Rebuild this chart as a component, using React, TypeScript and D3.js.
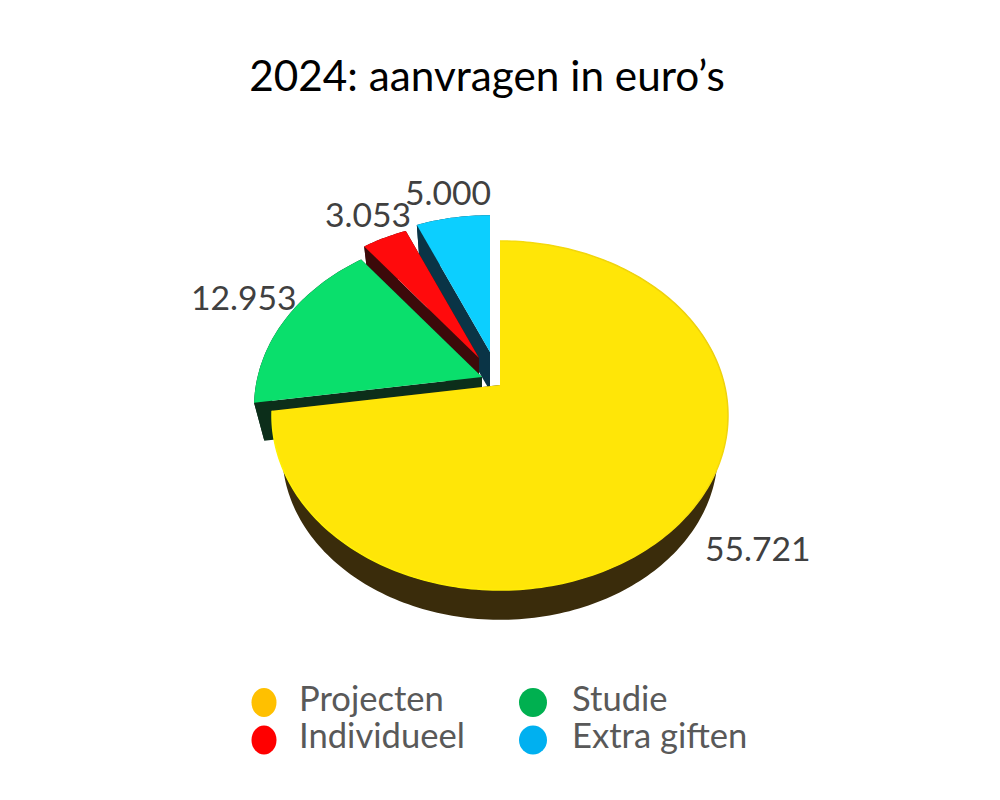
import React from "react";
import * as d3 from "d3";

const categories = ["Projecten", "Studie", "Individueel", "Extra giften"];
const values = [55721, 12953, 3053, 5000];
const valueLabels = ["55.721", "12.953", "3.053", "5.000"];
const topColors = ["#FFE607", "#0ADF6C", "#FF0A0C", "#0CCFFF"];
const wallColors = ["#3A2C0B", "#0C2E1A", "#3C0A0A", "#0A3446"];
const legendColors = ["#FFC000", "#00B050", "#FF0000", "#00B0F0"];

// Layout of each slice: exploded apex and perspective scale
const apexX = [500, 482, 479, 490];
const apexY = [385, 377, 358, 352];
const sliceScale = [1, 1, 0.95, 0.95];
const labelX = [705, 191, 325, 405];
const labelY = [561, 310, 227, 205];
const legendCx = [264, 533, 264, 533];
const legendCy = [702.5, 702.5, 740, 740];
const legendRx = [12.5, 14, 12.5, 14];
const legendTextX = [299, 572, 299, 572];
const legendTextY = [711, 711, 748, 748];

const FONT = "Lato, Carlito, Calibri, sans-serif";
const R = 224.5, S = 169.2, K = 0.1748;
const WALL_SCALE = 0.955, WALL_DY = 39;

const arcs = d3.pie<number>().sort(null).value((d) => d)(values);

type Pt = [number, number];
const project = (i: number, a: number): Pt => {
  const u = Math.sin(a), v = -Math.cos(a), w = 1 - K * v, s = sliceScale[i];
  return [apexX[i] + (s * R * u) / w, apexY[i] + (s * S * v) / w];
};
const lower = (i: number, p: Pt): Pt => [
  apexX[i] + (p[0] - apexX[i]) * WALL_SCALE,
  apexY[i] + (p[1] - apexY[i]) * WALL_SCALE + WALL_DY,
];
const rim = (i: number): Pt[] => {
  const { startAngle, endAngle } = arcs[i];
  const n = Math.max(4, Math.ceil((endAngle - startAngle) / 0.02));
  const ang = d3.scaleLinear().domain([0, n]).range([startAngle, endAngle]);
  return d3.range(n + 1).map((k) => project(i, ang(k)));
};
const line = d3.line<Pt>();

function Slice({ i }: { i: number }) {
  const edge = rim(i);
  const apex: Pt = [apexX[i], apexY[i]];
  const first = edge[0], last = edge[edge.length - 1];
  const pts = [apex, ...edge];
  const ribbon = [...edge, ...edge.map((p) => lower(i, p)).reverse()];
  const sideA = [apex, first, lower(i, first), lower(i, apex)];
  const sideB = [apex, last, lower(i, last), lower(i, apex)];
  return (
    <g>
      {[ribbon, sideA, sideB].map((poly, k) => (
        <path key={k} d={line(poly) + "Z"} fill={wallColors[i]} />
      ))}
      <path d={line(pts) + "Z"} fill={topColors[i]} />
      {i === 0 ? (
        <path d={line(edge)!} fill="none" stroke="url(#yEdge)" strokeWidth={1.5} />
      ) : null}
    </g>
  );
}

export default function App() {
  return (
    <svg
      width={1000}
      height={800}
      viewBox="0 0 1000 800"
      style={{ position: "absolute", left: 0, top: 0, background: "#fff" }}
    >
      <defs>
        <linearGradient id="yEdge" gradientUnits="userSpaceOnUse" x1="272" y1="590" x2="728" y2="240">
          <stop offset="0" stopColor="#FFF600" />
          <stop offset="0.55" stopColor="#FFE607" />
          <stop offset="1" stopColor="#E6C810" />
        </linearGradient>
      </defs>
      <text x={487} y={91} textAnchor="middle" fontFamily={FONT} fontSize={42.3} fill="#000">
        2024: aanvragen in euro’s
      </text>
      {[3, 2, 1, 0].map((i) => (
        <Slice key={i} i={i} />
      ))}
      {valueLabels.map((t, i) => (
        <text key={t} x={labelX[i]} y={labelY[i]} fontFamily={FONT} fontSize={33.7} fill="#404040">
          {t}
        </text>
      ))}
      {categories.map((c, i) => (
        <g key={c}>
          <ellipse cx={legendCx[i]} cy={legendCy[i]} rx={legendRx[i]} ry={14.5} fill={legendColors[i]} />
          <text x={legendTextX[i]} y={legendTextY[i]} fontFamily={FONT} fontSize={34.6} fill="#595959">
            {c}
          </text>
        </g>
      ))}
    </svg>
  );
}
